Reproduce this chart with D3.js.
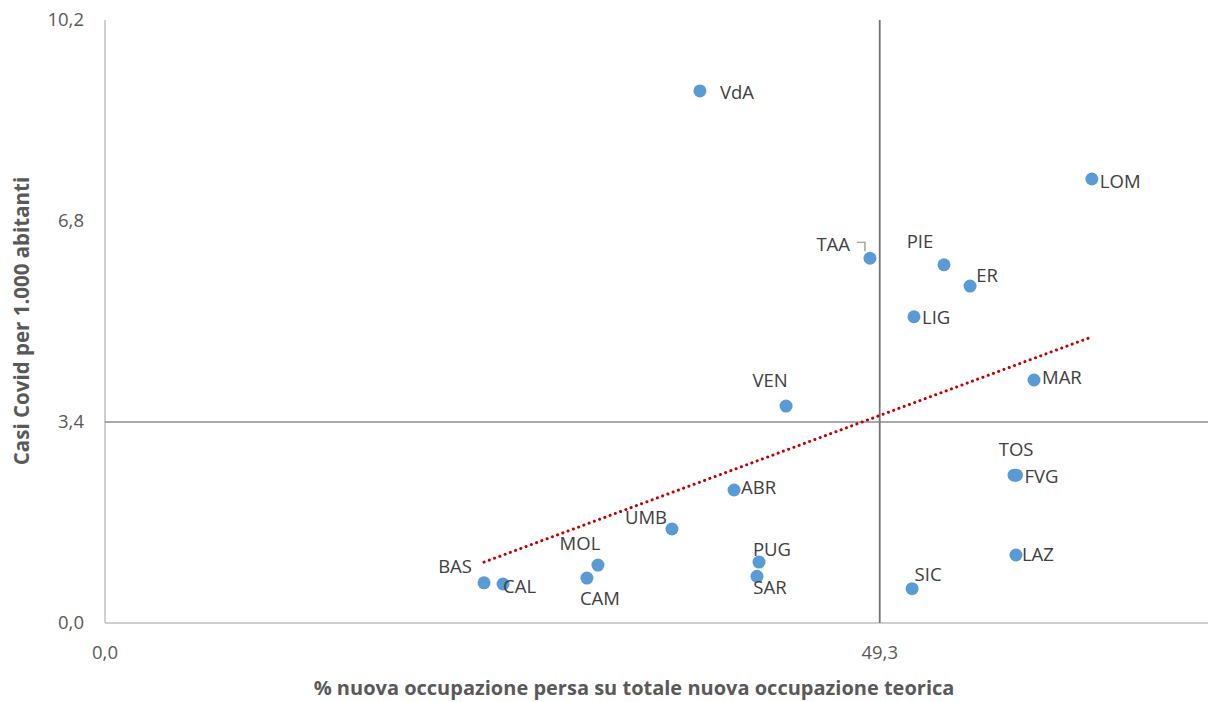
<!DOCTYPE html>
<html>
<head>
<meta charset="utf-8">
<script src="https://cdn.jsdelivr.net/npm/d3@7"></script>
<style>
  body { margin: 0; background: #fff; }
  svg text { font-family: "Open Sans", "Noto Sans", sans-serif; }
</style>
</head>
<body>
<div id="container"></div>
<script>
// regioni
const regions = ['VdA', 'LOM', 'TAA', 'PIE', 'ER', 'LIG', 'MAR', 'VEN', 'TOS', 'FVG',
  'ABR', 'UMB', 'LAZ', 'PUG', 'MOL', 'SAR', 'CAM', 'SIC', 'BAS', 'CAL'];
// % nuova occupazione persa
const lostJobs = [37.86, 62.8, 48.68, 53.39, 55.05, 51.48, 59.12, 43.34, 57.85, 58.0,
  40.03, 36.08, 57.97, 41.62, 31.37, 41.49, 30.67, 51.36, 24.12, 25.33];
// casi covid per 1.000 abitanti
const covidCases = [9.0, 7.51, 6.17, 6.06, 5.70, 5.18, 4.11, 3.67, 2.50, 2.50,
  2.25, 1.59, 1.15, 1.03, 0.98, 0.79, 0.76, 0.58, 0.68, 0.66];
// linea di tendenza (estremi)
const trendX = [24.12, 62.8];
const trendY = [1.03, 4.84];
// assi
const xTicks = [0, 49.3];
const yTicks = [0, 3.4, 6.8, 10.2];
const xCross = 49.3;
const yCross = 3.4;

// posizione etichette (dx, dy, anchor)
const labelPos = {
  VdA: [20, 2, 'start'], LOM: [8, 2, 'start'], TAA: [-20, -14, 'end'],
  PIE: [-24, -23, 'middle'], ER: [17, -11, 'middle'], LIG: [8, 1, 'start'],
  MAR: [8, -3, 'start'], VEN: [-16, -26, 'middle'], TOS: [2, -26, 'middle'],
  FVG: [8, 1, 'start'], ABR: [7, -2, 'start'], UMB: [-26, -11, 'middle'],
  LAZ: [6, 0, 'start'], PUG: [13, -13, 'middle'], MOL: [-18, -22, 'middle'],
  SAR: [13, 11, 'middle'], CAM: [13, 20, 'middle'], SIC: [16, -14, 'middle'],
  BAS: [-29, -16, 'middle'], CAL: [0, 3, 'start']
};

const points = regions.map((r, i) => ({ label: r, x: lostJobs[i], y: covidCases[i] }));

const width = 1208, height = 702;
const svg = d3.select('#container').append('svg')
  .attr('width', width).attr('height', height);

const x = d3.scaleLinear().domain([0, 70]).range([105, 1205]);
const y = d3.scaleLinear().domain([0, 10.2]).range([623, 20]);

// bordi grigio chiaro
svg.append('line')
  .attr('x1', x(0)).attr('x2', x(0)).attr('y1', y(10.2)).attr('y2', y(0))
  .attr('stroke', '#bfbfbf').attr('stroke-width', 1.5);
svg.append('line')
  .attr('x1', x(0)).attr('x2', width).attr('y1', y(0)).attr('y2', y(0))
  .attr('stroke', '#bfbfbf').attr('stroke-width', 1.5);

// assi incrociati
svg.append('line')
  .attr('x1', x(0)).attr('x2', width).attr('y1', y(yCross)).attr('y2', y(yCross))
  .attr('stroke', '#8c8c8c').attr('stroke-width', 1.5);
svg.append('line')
  .attr('x1', x(xCross)).attr('x2', x(xCross)).attr('y1', y(10.2)).attr('y2', y(0))
  .attr('stroke', '#737373').attr('stroke-width', 1.8);

const fmt = d => d3.format('.1f')(d).replace('.', ',');

// tick asse y
svg.selectAll('text.ytick').data(yTicks).enter().append('text')
  .attr('class', 'ytick')
  .attr('x', 84).attr('y', d => y(d)).attr('dy', '0.35em')
  .attr('text-anchor', 'end')
  .attr('fill', '#595959').style('font-size', '18.5px')
  .text(fmt);

// tick asse x
svg.selectAll('text.xtick').data(xTicks).enter().append('text')
  .attr('class', 'xtick')
  .attr('x', d => x(d)).attr('y', 653).attr('dy', '0.35em')
  .attr('text-anchor', 'middle')
  .attr('fill', '#595959').style('font-size', '18.5px')
  .text(fmt);

// titoli
svg.append('text')
  .attr('x', 634).attr('y', 688).attr('dy', '0.35em')
  .attr('text-anchor', 'middle')
  .attr('fill', '#595959').style('font-size', '20px').style('font-weight', 'bold')
  .text('% nuova occupazione persa su totale nuova occupazione teorica');
svg.append('text')
  .attr('transform', 'translate(22,321) rotate(-90)')
  .attr('dy', '0.35em')
  .attr('text-anchor', 'middle')
  .attr('fill', '#595959').style('font-size', '20.5px').style('font-weight', 'bold')
  .text('Casi Covid per 1.000 abitanti');

// linea di tendenza
svg.append('line')
  .attr('x1', x(trendX[0])).attr('y1', y(trendY[0]))
  .attr('x2', x(trendX[1])).attr('y2', y(trendY[1]))
  .attr('stroke', '#c00000').attr('stroke-width', 3)
  .attr('stroke-dasharray', '0.1,5.5').attr('stroke-linecap', 'round');

// leader TAA
const taa = points.find(p => p.label === 'TAA');
svg.append('path')
  .attr('d', `M${x(taa.x) - 13},${y(taa.y) - 16} H${x(taa.x) - 5} V${y(taa.y) - 7}`)
  .attr('fill', 'none').attr('stroke', '#8c8c8c').attr('stroke-width', 1.2);

// punti
svg.selectAll('circle.pt').data(points).enter().append('circle')
  .attr('class', 'pt')
  .attr('cx', d => x(d.x)).attr('cy', d => y(d.y)).attr('r', 6.5)
  .attr('fill', '#5b9bd5');

// etichette
svg.selectAll('text.lbl').data(points).enter().append('text')
  .attr('class', 'lbl')
  .attr('x', d => x(d.x) + labelPos[d.label][0])
  .attr('y', d => y(d.y) + labelPos[d.label][1])
  .attr('dy', '0.35em')
  .attr('text-anchor', d => labelPos[d.label][2])
  .attr('fill', '#404040').style('font-size', '18.5px')
  .text(d => d.label);
</script>
</body>
</html>
